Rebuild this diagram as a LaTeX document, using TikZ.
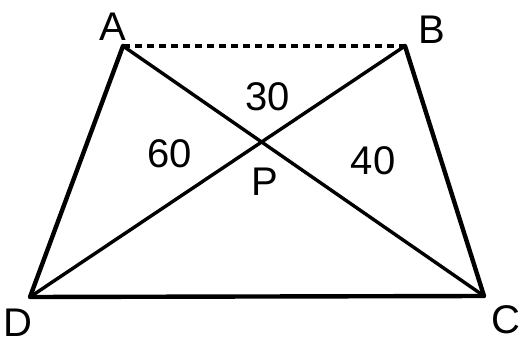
\documentclass[tikz,border=0pt]{standalone}
\usepackage{fontspec}
\setmainfont{Liberation Sans}
\begin{document}
\begin{tikzpicture}[x=1pt,y=-1pt,
  side/.style={line width=4.4pt,line cap=round,line join=round},
  diag/.style={line width=3.4pt},
  lbl/.style={font=\fontsize{40}{42}\selectfont,inner sep=0pt}]
\useasboundingbox (0,0) rectangle (524,347);
\coordinate (A) at (123,46);
\coordinate (B) at (405,46);
\coordinate (C) at (484,296);
\coordinate (D) at (30,297);
\draw[side] (A) -- (D) -- (C) -- (B);
\draw[line width=3.4pt,dash pattern=on 7pt off 5pt] (A) -- (B);
\draw[diag] (A) -- (C);
\draw[diag] (B) -- (D);
\node[lbl] (la) at (113,27) {A};
\node[lbl] (lb) at (432,30) {B};
\node[lbl] (lc) at (506,320) {C};
\node[lbl] (ld) at (18,323) {D};
\node[lbl] (l30) at (268,97) {30};
\node[lbl] (l60) at (170,154) {60};
\node[lbl] (l40) at (373,161) {40};
\node[lbl] (lp) at (265,182) {P};
\end{tikzpicture}
\end{document}
